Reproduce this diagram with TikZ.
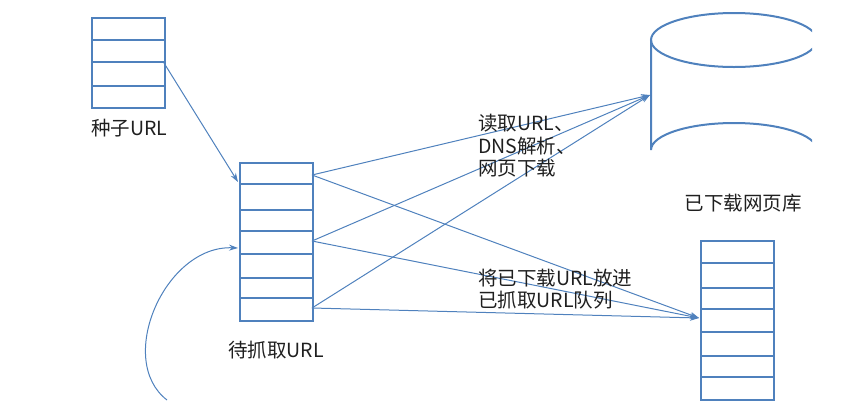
\documentclass[tikz,border=0pt]{standalone}
\usepackage{fontspec}
\setmainfont{Noto Sans CJK SC}
\usetikzlibrary{arrows.meta}
\definecolor{lineblue}{HTML}{4F81BD}
\definecolor{txt}{HTML}{1F1F1F}
\tikzset{
  qbox/.style={draw=lineblue, line width=2pt, inner sep=0pt, minimum width=73pt},
  divider/.style={draw=lineblue, line width=1.1pt},
  conn/.style={draw=lineblue, line width=1pt, -{Stealth[length=9pt,width=6pt]}},
  lbl/.style={text=txt, font=\fontsize{19.5}{22.5}\selectfont, inner sep=0pt},
}
\begin{document}
\begin{tikzpicture}[x=1pt,y=-1pt]
\useasboundingbox (0,0) rectangle (854,400);
% seed box
\node[qbox, minimum height=90pt, anchor=north west] (seed) at (91,17) {};
\foreach \yy in {40,62,86} \draw[divider] (91,\yy) -- (164,\yy);
\node[lbl, anchor=west] (seedlbl) at (91,128) {种子URL};
% pending box
\node[qbox, minimum height=158pt, anchor=north west] (pend) at (239,162) {};
\foreach \yy in {184,210,231,254,278,298} \draw[divider] (239,\yy) -- (312,\yy);
\node[lbl] (pendlbl) at (276,350) {待抓取URL};
% crawled queue box
\node[qbox, minimum height=159pt, anchor=north west] (done) at (700,240) {};
\foreach \yy in {263,288,309,332,356,377} \draw[divider] (700,\yy) -- (773,\yy);
% database cylinder (clipped at right like the reference)
\begin{scope}
\clip (600,0) rectangle (812,200);
\draw[lineblue, line width=2pt] (734,40) ellipse [x radius=83, y radius=27];
\draw[lineblue, line width=2pt] (651,40) -- (651,150) arc[start angle=180, end angle=360, x radius=83, y radius=27] -- (817,40);
\end{scope}
\coordinate (db) at (650,95);
\node[lbl] (dblbl) at (743,203) {已下载网页库};
% anchor points
\coordinate (seedout) at (164,63);
\coordinate (pendin1) at (238,182);
\coordinate (pendin2) at (238,248);
\coordinate (p1) at (312,175);
\coordinate (p2) at (312,241);
\coordinate (p3) at (312,308);
\coordinate (donein) at (699,318);
\coordinate (loopstart) at (167,400);
% connectors
\draw[conn] (seedout) -- (pendin1);
\foreach \p in {p1,p2,p3} {
  \draw[conn] (\p) -- (db);
  \draw[conn] (\p) -- (donein);
}
\draw[conn] (loopstart) .. controls (115,360) and (165,245) .. (pendin2);
% labels
\node[lbl, anchor=west, align=left] (l1) at (478,146) {读取URL、\\DNS解析、\\网页下载};
\node[lbl, anchor=west, align=left] (l2) at (478,289) {将已下载URL放进\\已抓取URL队列};
\end{tikzpicture}
\end{document}
